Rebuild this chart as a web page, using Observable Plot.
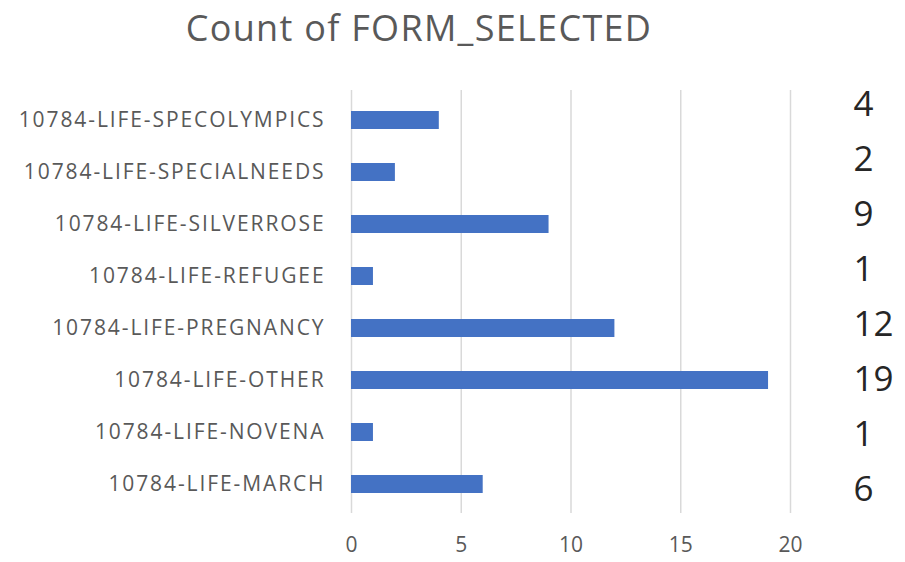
<!DOCTYPE html>
<html>
<head>
<meta charset="utf-8">
<script src="https://cdn.jsdelivr.net/npm/d3@7"></script>
<script src="https://cdn.jsdelivr.net/npm/@observablehq/plot@0.6"></script>
<style>
  html, body { margin: 0; padding: 0; background: #fff; }
  #wrap { position: relative; width: 905px; height: 562px; overflow: hidden; font-family: "Open Sans", sans-serif; }
  #title { position: absolute; left: 0; width: 838px; top: 2px; text-align: center; font-size: 36px; letter-spacing: 1.3px; color: #595959; line-height: 52px; }
  #main { position: absolute; left: 0; top: 0; }
  #labels { position: absolute; left: 853px; top: 0; }
  #main g[aria-label="y-axis tick label"] text { letter-spacing: 1.9px; }
</style>
</head>
<body>
<div id="wrap">
  <div id="main"></div>
  <div id="labels"></div>
  <div id="title">Count of FORM_SELECTED</div>
</div>
<script>
const categories = [
  "10784-LIFE-SPECOLYMPICS",
  "10784-LIFE-SPECIALNEEDS",
  "10784-LIFE-SILVERROSE",
  "10784-LIFE-REFUGEE",
  "10784-LIFE-PREGNANCY",
  "10784-LIFE-OTHER",
  "10784-LIFE-NOVENA",
  "10784-LIFE-MARCH"
];
const counts = [4, 2, 9, 1, 12, 19, 1, 6];
const xTicks = [0, 5, 10, 15, 20];
const titleText = "Count of FORM_SELECTED";

const data = categories.map((c, i) => ({cat: c, count: counts[i]}));
document.getElementById("title").textContent = titleText;

const main = Plot.plot({
  width: 905,
  height: 562,
  marginLeft: 351,
  marginRight: 115,
  marginTop: 90,
  marginBottom: 49,
  style: {fontFamily: "Open Sans, sans-serif", background: "transparent"},
  x: {domain: [0, 20], ticks: xTicks},
  y: {domain: categories, paddingInner: 0.66, paddingOuter: 0.33},
  marks: [
    Plot.gridX(xTicks, {stroke: "#d9d9d9", strokeOpacity: 1, strokeWidth: 1.5}),
    Plot.barX(data, {y: "cat", x: "count", fill: "#4472C4"}),
    Plot.axisY({tickSize: 0, tickPadding: 26, fontSize: 21, color: "#595959", label: null}),
    Plot.axisX(xTicks, {tickSize: 0, tickPadding: 24, fontSize: 21, color: "#595959", label: null})
  ]
});
document.getElementById("main").appendChild(main);

const labels = Plot.plot({
  width: 52,
  height: 562,
  marginLeft: 0,
  marginRight: 0,
  marginTop: 103,
  marginBottom: 72,
  style: {fontFamily: "Open Sans, sans-serif", background: "transparent", overflow: "visible"},
  x: {axis: null},
  y: {type: "point", domain: categories, padding: 0, axis: null},
  marks: [
    Plot.text(data, {y: "cat", text: d => String(d.count), frameAnchor: "left", textAnchor: "start", fontSize: 35, fill: "#262626"})
  ]
});
document.getElementById("labels").appendChild(labels);
</script>
</body>
</html>
